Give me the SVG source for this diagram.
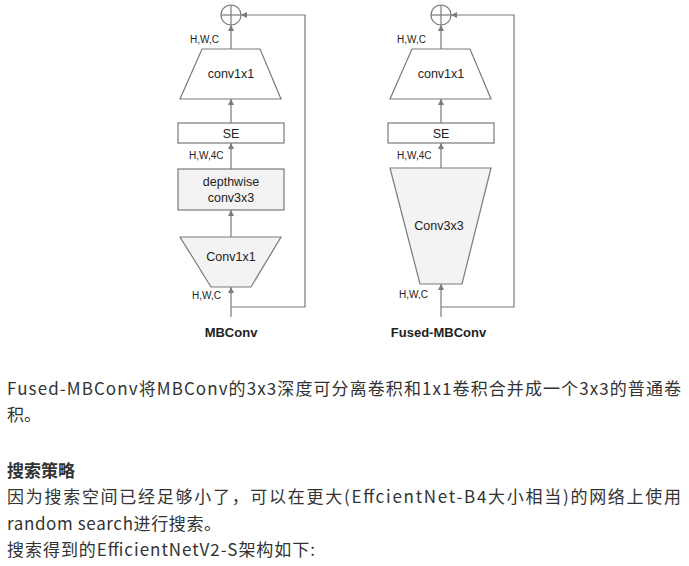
<svg xmlns="http://www.w3.org/2000/svg" width="689" height="566" viewBox="0 0 689 566">
  <style>
    .shape { stroke: #7a7a7a; stroke-width: 1.2; }
    .white { fill: #ffffff; }
    .grey { fill: #f3f3f3; }
    .wire { fill: none; stroke: #7a7a7a; stroke-width: 1.2; }
    .lbl { font-family: "Liberation Sans", Arial, sans-serif; fill: #222; }
    .dim { font-size: 10px; }
    .op { font-size: 12.5px; text-anchor: middle; }
    .title { font-size: 13px; font-weight: bold; text-anchor: middle; }
    .body { font-family: "Noto Sans CJK SC", "Noto Sans", sans-serif; font-size: 17px; fill: #333; }
  </style>
  <defs>
    <marker id="tip" viewBox="0 0 6 6" refX="6" refY="3" markerWidth="6" markerHeight="6" markerUnits="userSpaceOnUse" orient="auto">
      <path d="M0,0 L6,3 L0,6 z" fill="#7a7a7a"/>
    </marker>
  </defs>
  <rect width="689" height="566" fill="#ffffff"/>

  <!-- connectors -->
  <g id="connectors">
    <!-- MBConv -->
    <line class="wire" x1="231" y1="317" x2="231" y2="287" marker-end="url(#tip)"/>
    <line class="wire" x1="231" y1="237" x2="231" y2="210" marker-end="url(#tip)"/>
    <line class="wire" x1="231" y1="169" x2="231" y2="143" marker-end="url(#tip)"/>
    <line class="wire" x1="231" y1="123" x2="231" y2="99" marker-end="url(#tip)"/>
    <line class="wire" x1="231" y1="49" x2="231" y2="25" marker-end="url(#tip)"/>
    <polyline class="wire" points="231,307 305,307 305,15 241,15" marker-end="url(#tip)"/>
    <!-- Fused-MBConv -->
    <line class="wire" x1="441" y1="317" x2="441" y2="284" marker-end="url(#tip)"/>
    <line class="wire" x1="441" y1="168" x2="441" y2="143" marker-end="url(#tip)"/>
    <line class="wire" x1="441" y1="123" x2="441" y2="99" marker-end="url(#tip)"/>
    <line class="wire" x1="441" y1="49" x2="441" y2="25" marker-end="url(#tip)"/>
    <polyline class="wire" points="441,307 514,307 514,15 451,15" marker-end="url(#tip)"/>
  </g>

  <!-- MBConv block -->
  <g id="mb-add">
    <circle class="shape white" cx="231" cy="15" r="10"/>
    <line class="wire" x1="221" y1="15" x2="241" y2="15"/>
    <line class="wire" x1="231" y1="5" x2="231" y2="25"/>
  </g>
  <g id="mb-conv1x1-out">
    <polygon class="shape white" points="202,49 260,49 281,99 180,99"/>
    <text class="lbl op" x="231" y="78">conv1x1</text>
  </g>
  <g id="mb-se">
    <rect class="shape white" x="178" y="123" width="106" height="20"/>
    <text class="lbl op" x="231" y="138">SE</text>
  </g>
  <g id="mb-depthwise">
    <rect class="shape grey" x="178" y="169" width="106" height="41"/>
    <text class="lbl op" x="231" y="186">depthwise</text>
    <text class="lbl op" x="231" y="202">conv3x3</text>
  </g>
  <g id="mb-conv1x1-in">
    <polygon class="shape grey" points="180,237 281,237 251,287 211,287"/>
    <text class="lbl op" x="231" y="261">Conv1x1</text>
  </g>
  <g id="mb-labels">
    <text class="lbl dim" x="190" y="43">H,W,C</text>
    <text class="lbl dim" x="189" y="159">H,W,4C</text>
    <text class="lbl dim" x="192" y="299">H,W,C</text>
    <text class="lbl title" x="231" y="337">MBConv</text>
  </g>

  <!-- Fused-MBConv block -->
  <g id="fused-add">
    <circle class="shape white" cx="441" cy="15" r="10"/>
    <line class="wire" x1="431" y1="15" x2="451" y2="15"/>
    <line class="wire" x1="441" y1="5" x2="441" y2="25"/>
  </g>
  <g id="fused-conv1x1">
    <polygon class="shape white" points="412,49 470,49 491,99 390,99"/>
    <text class="lbl op" x="441" y="78">conv1x1</text>
  </g>
  <g id="fused-se">
    <rect class="shape white" x="388" y="123" width="106" height="20"/>
    <text class="lbl op" x="441" y="138">SE</text>
  </g>
  <g id="fused-conv3x3">
    <polygon class="shape grey" points="390,168 491,168 462,284 420,284"/>
    <text class="lbl op" x="439" y="230">Conv3x3</text>
  </g>
  <g id="fused-labels">
    <text class="lbl dim" x="397" y="43">H,W,C</text>
    <text class="lbl dim" x="397" y="159">H,W,4C</text>
    <text class="lbl dim" x="399" y="298">H,W,C</text>
    <text class="lbl title" x="438.5" y="337">Fused-MBConv</text>
  </g>

  <!-- article text -->
  <text class="body" x="7" y="395" textLength="674" lengthAdjust="spacing">Fused-MBConv将MBConv的3x3深度可分离卷积和1x1卷积合并成一个3x3的普通卷</text>
  <text class="body" x="7" y="421">积。</text>
  <text class="body" x="7" y="477" font-weight="bold" textLength="68" lengthAdjust="spacing">搜索策略</text>
  <text class="body" x="7" y="503" textLength="674" lengthAdjust="spacing">因为搜索空间已经足够小了，可以在更大(EffcientNet-B4大小相当)的网络上使用</text>
  <text class="body" x="7" y="530" textLength="214" lengthAdjust="spacing">random search进行搜索。</text>
  <text class="body" x="7" y="556" textLength="308" lengthAdjust="spacing">搜索得到的EfficientNetV2-S架构如下:</text>
</svg>
